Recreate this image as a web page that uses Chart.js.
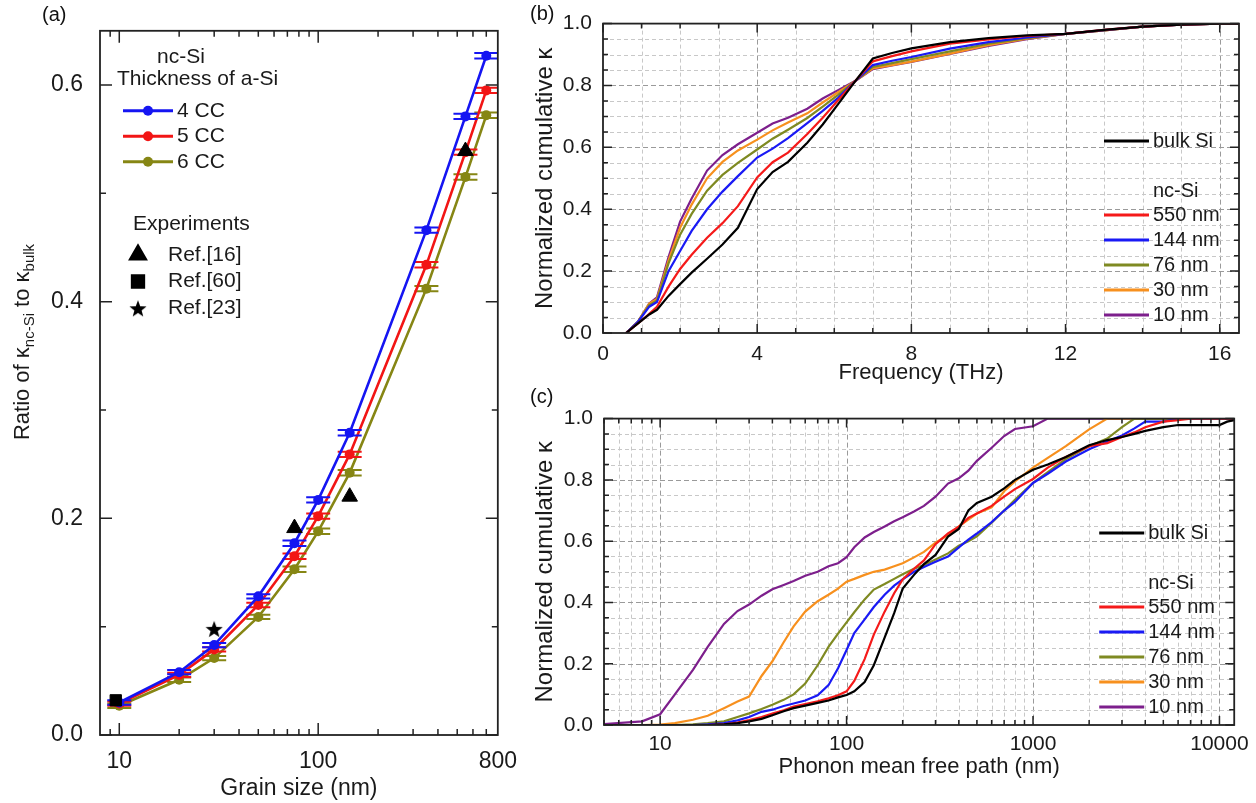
<!DOCTYPE html>
<html lang="en">
<head>
<meta charset="UTF-8">
<title>nc-Si thermal conductivity</title>
<script src="https://cdn.jsdelivr.net/npm/chart.js"></script>
<style>
  body { margin: 0; background: #fff; font-family: "Liberation Sans", Arial, sans-serif; }
  #page { position: relative; width: 1256px; height: 803px; overflow: hidden; }
  .panel { position: absolute; }
  .tag { position: absolute; font-size: 20px; color: #111; z-index: 2; }
</style>
</head>
<body>
<div id="page">
  <div class="panel" style="left:0;top:0;width:530px;height:803px"><canvas id="chart-a"></canvas></div>
  <div class="panel" style="left:530px;top:0;width:726px;height:395px"><canvas id="chart-b"></canvas></div>
  <div class="panel" style="left:530px;top:395px;width:726px;height:408px"><canvas id="chart-c"></canvas></div>
  <div class="tag" style="left:42px;top:3px">(a)</div>
  <div class="tag" style="left:530px;top:2px">(b)</div>
  <div class="tag" style="left:530px;top:385px">(c)</div>
</div>

<script>
// ---- panel (a): ratio vs grain size ----
const grain = [10, 20, 30, 50, 76, 100, 144, 350, 550, 700];
const cc4 = [0.030, 0.058, 0.083, 0.128, 0.177, 0.217, 0.279, 0.466, 0.571, 0.627];
const cc5 = [0.029, 0.0555, 0.079, 0.120, 0.165, 0.202, 0.259, 0.434, 0.538, 0.595];
const cc6 = [0.027, 0.051, 0.071, 0.109, 0.153, 0.188, 0.242, 0.412, 0.515, 0.572];
const cc4Err = [0.002, 0.002, 0.002, 0.002, 0.0025, 0.0025, 0.0025, 0.0025, 0.0025, 0.0025];
const cc5Err = [0.002, 0.002, 0.002, 0.002, 0.0025, 0.0025, 0.0025, 0.0025, 0.0025, 0.0025];
const cc6Err = [0.002, 0.002, 0.002, 0.002, 0.0025, 0.0025, 0.0025, 0.0025, 0.0025, 0.0025];
const ref16X = [76, 144, 550], ref16Y = [0.191, 0.220, 0.539];
const ref60X = [9.6], ref60Y = [0.032];
const ref23X = [30], ref23Y = [0.098];

const aXLabels = [10, 100, 800];
const aXMajor = [10, 100];
const aXMinor = [9, 20, 30, 40, 50, 60, 70, 80, 90, 200, 300, 400, 500, 600, 700];
const aYLabels = [0, 0.2, 0.4, 0.6];
const aYMinor = [0.1, 0.3, 0.5];

// ---- panel (b): cumulative kappa vs frequency ----
const freq = [0.6, 0.9, 1.2, 1.4, 1.7, 2.0, 2.3, 2.7, 3.1, 3.5, 4.0, 4.4, 4.8, 5.3, 5.7, 6.1, 6.55, 7.0, 7.5, 8, 9, 10, 11, 12, 13, 14, 15, 16, 16.5];
const bBulk = [0, 0.03, 0.06, 0.075, 0.12, 0.158, 0.195, 0.24, 0.286, 0.34, 0.465, 0.52, 0.553, 0.615, 0.674, 0.74, 0.815, 0.887, 0.905, 0.92, 0.94, 0.953, 0.962, 0.967, 0.98, 0.99, 0.997, 1, 1];
const b550 = [0, 0.03, 0.062, 0.085, 0.15, 0.207, 0.253, 0.308, 0.355, 0.41, 0.503, 0.552, 0.583, 0.643, 0.696, 0.752, 0.815, 0.878, 0.895, 0.91, 0.935, 0.949, 0.96, 0.967, 0.98, 0.99, 0.997, 1, 1];
const b144 = [0, 0.035, 0.085, 0.1, 0.2, 0.265, 0.33, 0.4, 0.457, 0.507, 0.567, 0.596, 0.63, 0.678, 0.718, 0.76, 0.815, 0.866, 0.88, 0.892, 0.919, 0.94, 0.955, 0.967, 0.979, 0.99, 0.997, 1, 1];
const b76 = [0, 0.035, 0.09, 0.105, 0.225, 0.318, 0.385, 0.46, 0.511, 0.55, 0.593, 0.628, 0.657, 0.695, 0.732, 0.77, 0.815, 0.86, 0.872, 0.885, 0.91, 0.935, 0.953, 0.967, 0.978, 0.99, 0.997, 1, 1];
const b30 = [0, 0.035, 0.095, 0.11, 0.235, 0.34, 0.415, 0.5, 0.553, 0.59, 0.625, 0.655, 0.68, 0.71, 0.745, 0.778, 0.815, 0.855, 0.866, 0.877, 0.903, 0.93, 0.951, 0.967, 0.978, 0.99, 0.997, 1, 1];
const b10 = [0, 0.035, 0.095, 0.115, 0.245, 0.36, 0.435, 0.525, 0.575, 0.61, 0.647, 0.677, 0.696, 0.725, 0.758, 0.785, 0.815, 0.853, 0.865, 0.876, 0.902, 0.928, 0.95, 0.967, 0.978, 0.99, 0.997, 1, 1];

const bXMajor = [0, 4, 8, 12, 16];
const bXMinor = [1, 2, 3, 5, 6, 7, 9, 10, 11, 13, 14, 15];
const bXGrid = [1, 2, 3, 4, 5, 6, 7, 8, 9, 10, 11, 12, 13, 14, 15, 16];
const kYMajor = [0, 0.2, 0.4, 0.6, 0.8, 1.0];
const kYMinor = [0.05, 0.1, 0.15, 0.25, 0.3, 0.35, 0.45, 0.5, 0.55, 0.65, 0.7, 0.75, 0.85, 0.9, 0.95];
const kYGrid = [0.05, 0.1, 0.15, 0.2, 0.25, 0.3, 0.35, 0.4, 0.45, 0.5, 0.55, 0.6, 0.65, 0.7, 0.75, 0.8, 0.85, 0.9, 0.95];

// ---- panel (c): cumulative kappa vs phonon mean free path ----
const mfp = [5, 8, 10, 12, 15, 18, 22, 26, 30, 35, 40, 46, 52, 60, 70, 80, 90, 100, 110, 125, 140, 160, 180, 200, 230, 260, 300, 350, 400, 450, 500, 600, 700, 800, 1000, 1200, 1500, 2000, 2500, 3000, 3500, 4000, 5000, 6000, 7000, 8000, 10000, 11000, 12000];
const cBulk = [0, 0, 0, 0, 0, 0, 0.002, 0.006, 0.012, 0.02, 0.032, 0.045, 0.055, 0.063, 0.072, 0.08, 0.09, 0.098, 0.11, 0.14, 0.195, 0.285, 0.365, 0.445, 0.49, 0.525, 0.555, 0.615, 0.64, 0.7, 0.725, 0.745, 0.772, 0.8, 0.833, 0.85, 0.875, 0.913, 0.93, 0.94, 0.95, 0.96, 0.972, 0.979, 0.979, 0.979, 0.979, 0.99, 0.995];
const c550 = [0, 0, 0, 0, 0, 0, 0.002, 0.008, 0.016, 0.026, 0.037, 0.048, 0.06, 0.068, 0.077, 0.087, 0.097, 0.11, 0.144, 0.215, 0.295, 0.37, 0.43, 0.475, 0.51, 0.537, 0.59, 0.625, 0.647, 0.676, 0.69, 0.715, 0.745, 0.77, 0.803, 0.84, 0.875, 0.91, 0.92, 0.94, 0.955, 0.972, 0.99, 0.995, 1, 1, 1, 1, 1];
const c144 = [0, 0, 0, 0, 0, 0.002, 0.006, 0.015, 0.026, 0.043, 0.05, 0.062, 0.07, 0.08, 0.097, 0.13, 0.185, 0.245, 0.3, 0.345, 0.385, 0.425, 0.455, 0.475, 0.5, 0.516, 0.533, 0.55, 0.58, 0.605, 0.625, 0.662, 0.7, 0.728, 0.79, 0.82, 0.86, 0.9, 0.925, 0.945, 0.968, 0.99, 0.99, 1, 1, 1, 1, 1, 1];
const c76 = [0, 0, 0, 0, 0.002, 0.006, 0.012, 0.026, 0.038, 0.052, 0.066, 0.082, 0.1, 0.135, 0.195, 0.255, 0.298, 0.335, 0.368, 0.41, 0.442, 0.46, 0.477, 0.492, 0.51, 0.522, 0.54, 0.56, 0.585, 0.6, 0.616, 0.66, 0.7, 0.735, 0.79, 0.825, 0.868, 0.91, 0.935, 0.972, 1, 1, 1, 1, 1, 1, 1, 1, 1];
const c30 = [0, 0, 0.001, 0.006, 0.017, 0.03, 0.055, 0.077, 0.093, 0.16, 0.208, 0.27, 0.322, 0.37, 0.404, 0.425, 0.445, 0.468, 0.477, 0.49, 0.5, 0.507, 0.518, 0.528, 0.547, 0.565, 0.595, 0.62, 0.648, 0.67, 0.69, 0.71, 0.763, 0.795, 0.84, 0.872, 0.91, 0.965, 1, 1, 1, 1, 1, 1, 1, 1, 1, 1, 1];
const c10 = [0.003, 0.012, 0.035, 0.1, 0.18, 0.255, 0.33, 0.372, 0.393, 0.422, 0.443, 0.457, 0.47, 0.487, 0.5, 0.518, 0.528, 0.548, 0.58, 0.612, 0.63, 0.648, 0.665, 0.678, 0.697, 0.715, 0.745, 0.788, 0.805, 0.83, 0.862, 0.905, 0.943, 0.966, 0.975, 1, 1, 1, 1, 1, 1, 1, 1, 1, 1, 1, 1, 1, 1];

const cXMajor = [10, 100, 1000, 10000];
const cXMinor = [5, 6, 7, 8, 9, 20, 30, 40, 50, 60, 70, 80, 90, 200, 300, 400, 500, 600, 700, 800, 900, 2000, 3000, 4000, 5000, 6000, 7000, 8000, 9000];

Chart.defaults.font.family = '"Liberation Sans", Arial, sans-serif';
Chart.defaults.color = '#1a1a1a';

// filled five-point star used as a point style
function starImage(size, color) {
    const c = document.createElement('canvas');
    c.width = c.height = size;
    const g = c.getContext('2d');
    const r = size / 2, ri = r * 0.42;
    g.beginPath();
    for (let i = 0; i < 10; i++) {
        const rad = i % 2 ? ri : r;
        const ang = -Math.PI / 2 + i * Math.PI / 5;
        g.lineTo(r + rad * Math.cos(ang), r + 1 + rad * Math.sin(ang));
    }
    g.closePath();
    g.fillStyle = color;
    g.fill();
    return c;
}
const starPt = starImage(18, '#000');

// frame, inward ticks on all four sides, dashed grid
const framePlugin = {
    id: 'frame',
    beforeDatasetsDraw(chart, args, o) {
        if (!o.gridX) return;
        const { ctx, chartArea: a, scales: { x, y } } = chart;
        ctx.save();
        ctx.lineWidth = 1;
        o.gridX.forEach(v => {
            const major = o.xMajor.includes(v);
            ctx.strokeStyle = major ? '#9a9a9a' : '#c8c8c8';
            ctx.setLineDash(major ? [5, 3] : [4, 3]);
            const px = Math.round(x.getPixelForValue(v)) + 0.5;
            ctx.beginPath(); ctx.moveTo(px, a.top); ctx.lineTo(px, a.bottom); ctx.stroke();
        });
        o.gridY.forEach(v => {
            const major = o.yMajor.includes(v);
            ctx.strokeStyle = major ? '#9a9a9a' : '#c8c8c8';
            ctx.setLineDash(major ? [5, 3] : [4, 3]);
            const py = Math.round(y.getPixelForValue(v)) + 0.5;
            ctx.beginPath(); ctx.moveTo(a.left, py); ctx.lineTo(a.right, py); ctx.stroke();
        });
        ctx.restore();
    },
    afterDatasetsDraw(chart, args, o) {
        const { ctx, chartArea: a, scales: { x, y } } = chart;
        ctx.save();
        ctx.strokeStyle = '#222';
        ctx.lineWidth = 1.5;
        ctx.setLineDash([]);
        const tick = (vals, len) => {
            vals.forEach(v => {
                const px = x.getPixelForValue(v);
                if (px < a.left - 1 || px > a.right + 1) return;
                ctx.beginPath();
                ctx.moveTo(px, a.bottom); ctx.lineTo(px, a.bottom - len);
                ctx.moveTo(px, a.top); ctx.lineTo(px, a.top + len);
                ctx.stroke();
            });
        };
        const tickY = (vals, len) => {
            vals.forEach(v => {
                const py = y.getPixelForValue(v);
                ctx.beginPath();
                ctx.moveTo(a.left, py); ctx.lineTo(a.left + len, py);
                ctx.moveTo(a.right, py); ctx.lineTo(a.right - len, py);
                ctx.stroke();
            });
        };
        tick(o.xMajor, o.majorLen); tick(o.xMinor, o.minorLen);
        tickY(o.yMajor, o.majorLen); tickY(o.yMinor, o.minorLen);
        ctx.lineWidth = 1.8;
        ctx.strokeRect(a.left, a.top, a.right - a.left, a.bottom - a.top);
        ctx.restore();
    }
};

// small error-bar caps ("=") around each simulated point
const capsPlugin = {
    id: 'caps',
    afterDatasetDraw(chart, args) {
        const ds = chart.data.datasets[args.index];
        if (!ds.err) return;
        const { ctx, chartArea: a, scales: { y } } = chart;
        ctx.save();
        ctx.beginPath();
        ctx.rect(a.left, a.top, a.right - a.left, a.bottom - a.top);
        ctx.clip();
        ctx.strokeStyle = ds.borderColor;
        ctx.lineWidth = 2;
        args.meta.data.forEach((pt, i) => {
            const v = ds.data[i].y;
            [v - ds.err[i], v + ds.err[i]].forEach(e => {
                const py = y.getPixelForValue(e);
                ctx.beginPath(); ctx.moveTo(pt.x - 12, py); ctx.lineTo(pt.x + 12, py); ctx.stroke();
            });
        });
        ctx.restore();
    }
};

// y title of (a) with subscripts
const ratioTitle = {
    id: 'ratioTitle',
    afterDraw(chart) {
        const ctx = chart.ctx;
        const parts = [
            { t: 'Ratio of \u03ba', s: 22, sub: false },
            { t: 'nc-Si', s: 15, sub: true },
            { t: ' to \u03ba', s: 22, sub: false },
            { t: 'bulk', s: 15, sub: true }
        ];
        ctx.save();
        ctx.translate(23, 342);
        ctx.rotate(-Math.PI / 2);
        ctx.fillStyle = '#1a1a1a';
        ctx.textBaseline = 'middle';
        let total = 0;
        parts.forEach(p => { ctx.font = p.s + 'px "Liberation Sans", Arial'; p.w = ctx.measureText(p.t).width; total += p.w; });
        let cx = -total / 2;
        parts.forEach(p => {
            ctx.font = p.s + 'px "Liberation Sans", Arial';
            ctx.fillText(p.t, cx, p.sub ? 7 : 0);
            cx += p.w;
        });
        ctx.restore();
    }
};

// legend of (a)
const legendA = {
    id: 'legendA',
    afterDraw(chart) {
        const { ctx, chartArea: a } = chart;
        const sims = chart.data.datasets.filter(d => d.group === 'sim');
        const exps = chart.data.datasets.filter(d => d.group === 'exp');
        ctx.save();
        ctx.font = '21px "Liberation Sans", Arial';
        ctx.fillStyle = '#1a1a1a';
        ctx.textBaseline = 'middle';
        ctx.fillText('nc-Si', a.left + 57, a.top + 26);
        ctx.fillText('Thickness of a-Si', a.left + 17, a.top + 48);
        sims.forEach((d, i) => {
            const yy = a.top + 80 + i * 25.5;
            ctx.strokeStyle = d.borderColor;
            ctx.lineWidth = 3;
            ctx.beginPath(); ctx.moveTo(a.left + 23, yy); ctx.lineTo(a.left + 73, yy); ctx.stroke();
            ctx.fillStyle = d.borderColor;
            ctx.beginPath(); ctx.arc(a.left + 48, yy, 5, 0, Math.PI * 2); ctx.fill();
            ctx.fillStyle = '#1a1a1a';
            ctx.fillText(d.label, a.left + 77, yy);
        });
        ctx.fillText('Experiments', a.left + 33, a.top + 193);
        exps.forEach((d, i) => {
            const yy = a.top + 224 + i * 26.7;
            ctx.fillStyle = '#000';
            ctx.strokeStyle = '#000';
            Chart.helpers.drawPoint(ctx, { pointStyle: d.pointStyle, radius: d.legendRadius, rotation: 0, borderWidth: 1 }, a.left + 38, yy);
            ctx.fillStyle = '#1a1a1a';
            ctx.fillText(d.label, a.left + 68, yy);
        });
        ctx.restore();
    }
};

// legend of (b) and (c)
const legendK = {
    id: 'legendK',
    afterDraw(chart) {
        const { ctx, chartArea: a } = chart;
        const sets = chart.data.datasets;
        ctx.save();
        ctx.font = '20px "Liberation Sans", Arial';
        ctx.textBaseline = 'middle';
        const row = (d, yy) => {
            ctx.strokeStyle = d.borderColor;
            ctx.lineWidth = 3;
            ctx.beginPath(); ctx.moveTo(a.right - 135, yy); ctx.lineTo(a.right - 90, yy); ctx.stroke();
            ctx.fillStyle = '#1a1a1a';
            ctx.fillText(d.label, a.right - 86, yy);
        };
        row(sets[0], a.bottom - 192);
        ctx.fillStyle = '#1a1a1a';
        ctx.fillText('nc-Si', a.right - 86, a.bottom - 142);
        sets.slice(1).forEach((d, i) => row(d, a.bottom - 118 + i * 25));
        ctx.restore();
    }
};

const toXY = (xs, ys) => xs.map((v, i) => ({ x: v, y: ys[i] }));

// ---------- chart (a) ----------
function simSet(label, ys, errs, color) {
    return {
        label, group: 'sim', data: toXY(grain, ys), err: errs,
        borderColor: color, backgroundColor: color, borderWidth: 2.6,
        pointRadius: 5, pointHoverRadius: 5, pointBorderWidth: 0, tension: 0
    };
}
function expSet(label, xs, ys, style, radius, legendRadius) {
    return {
        label, group: 'exp', data: toXY(xs, ys), showLine: false,
        pointStyle: style, pointRadius: radius, pointHoverRadius: radius, legendRadius,
        backgroundColor: '#000', borderColor: '#000', pointBorderWidth: 1
    };
}

new Chart(document.getElementById('chart-a'), {
    type: 'line',
    data: {
        datasets: [
            expSet('Ref.[16]', ref16X, ref16Y, 'triangle', 9, 8.5),
            expSet('Ref.[60]', ref60X, ref60Y, 'rect', 8, 8),
            expSet('Ref.[23]', ref23X, ref23Y, starPt, 9, 9),
            simSet('4 CC', cc4, cc4Err, '#1515f2'),
            simSet('5 CC', cc5, cc5Err, '#f21515'),
            simSet('6 CC', cc6, cc6Err, '#868614')
        ]
    },
    options: {
        responsive: true,
        maintainAspectRatio: false,
        animation: false,
        events: [],
        layout: { autoPadding: false, padding: { top: 19, right: 24, left: 0, bottom: 0 } },
        plugins: {
            legend: { display: false },
            tooltip: { enabled: false },
            frame: { xMajor: aXMajor, xMinor: aXMinor, yMajor: aYLabels, yMinor: aYMinor, majorLen: 12, minorLen: 6 }
        },
        scales: {
            x: {
                type: 'logarithmic', min: 8, max: 800,
                afterFit: s => { s.height = 68; },
                afterBuildTicks: s => { s.ticks = aXLabels.map(v => ({ value: v })); },
                ticks: { font: { size: 23 }, padding: 13, maxRotation: 0, autoSkip: false, callback: v => String(v) },
                grid: { display: false, drawTicks: false },
                border: { display: false },
                title: { display: true, text: 'Grain size (nm)', font: { size: 23 }, padding: { top: 0, bottom: 1 } }
            },
            y: {
                min: 0, max: 0.65,
                afterFit: s => { s.width = 100; },
                afterBuildTicks: s => { s.ticks = aYLabels.map(v => ({ value: v })); },
                ticks: { font: { size: 23 }, padding: 17, callback: v => v.toFixed(1) },
                grid: { display: false, drawTicks: false },
                border: { display: false }
            }
        }
    },
    plugins: [framePlugin, capsPlugin, ratioTitle, legendA]
});

// ---------- charts (b) and (c) ----------
function kSet(label, xs, ys, color) {
    return { label, data: toXY(xs, ys), borderColor: color, backgroundColor: color, borderWidth: 2.2, pointRadius: 0, tension: 0 };
}
const colBulk = '#000000', col550 = '#f51a1a', col144 = '#1a1af5', col76 = '#7f8a22', col30 = '#f7901e', col10 = '#7d1f8c';

function kChart(id, sets, xScale, frame, pad, yWidth, xHeight, xPad, titlePad, xTitle) {
    return new Chart(document.getElementById(id), {
        type: 'line',
        data: { datasets: sets },
        options: {
            responsive: true,
            maintainAspectRatio: false,
            animation: false,
            events: [],
            layout: { autoPadding: false, padding: pad },
            plugins: { legend: { display: false }, tooltip: { enabled: false }, frame },
            scales: {
                x: Object.assign(xScale, {
                    afterFit: s => { s.height = xHeight; },
                    afterBuildTicks: s => { s.ticks = frame.xMajor.map(v => ({ value: v })); },
                    ticks: { font: { size: 21 }, padding: xPad, maxRotation: 0, autoSkip: false, callback: v => String(v) },
                    grid: { display: false, drawTicks: false },
                    border: { display: false },
                    title: { display: true, text: xTitle, font: { size: 22 }, padding: { top: 0, bottom: titlePad } }
                }),
                y: {
                    min: 0, max: 1,
                    afterFit: s => { s.width = yWidth; },
                    afterBuildTicks: s => { s.ticks = kYMajor.map(v => ({ value: v })); },
                    ticks: { font: { size: 21 }, padding: 11, callback: v => v.toFixed(1) },
                    grid: { display: false, drawTicks: false },
                    border: { display: false },
                    title: { display: true, text: 'Normalized cumulative \u03ba', font: { size: 24 }, padding: { top: 1, bottom: 0 } }
                }
            }
        },
        plugins: [framePlugin, legendK]
    });
}

kChart('chart-b', [
    kSet('bulk Si', freq, bBulk, colBulk),
    kSet('550 nm', freq, b550, col550),
    kSet('144 nm', freq, b144, col144),
    kSet('76 nm', freq, b76, col76),
    kSet('30 nm', freq, b30, col30),
    kSet('10 nm', freq, b10, col10)
], { type: 'linear', min: 0, max: 16.5 },
{ xMajor: bXMajor, xMinor: bXMinor, yMajor: kYMajor, yMinor: kYMinor, gridX: bXGrid, gridY: kYGrid, majorLen: 9, minorLen: 5 },
{ top: 22, right: 17, left: 0, bottom: 0 }, 73, 62, 9, 9, 'Frequency (THz)');

kChart('chart-c', [
    kSet('bulk Si', mfp, cBulk, colBulk),
    kSet('550 nm', mfp, c550, col550),
    kSet('144 nm', mfp, c144, col144),
    kSet('76 nm', mfp, c76, col76),
    kSet('30 nm', mfp, c30, col30),
    kSet('10 nm', mfp, c10, col10)
], { type: 'logarithmic', min: 5, max: 12000 },
{ xMajor: cXMajor, xMinor: cXMinor, yMajor: kYMajor, yMinor: kYMinor, gridX: cXMinor.concat(cXMajor), gridY: kYGrid, majorLen: 9, minorLen: 5 },
{ top: 17, right: 15, left: 0, bottom: 0 }, 74, 78, 7, 23, 'Phonon mean free path (nm)');
</script>
</body>
</html>
